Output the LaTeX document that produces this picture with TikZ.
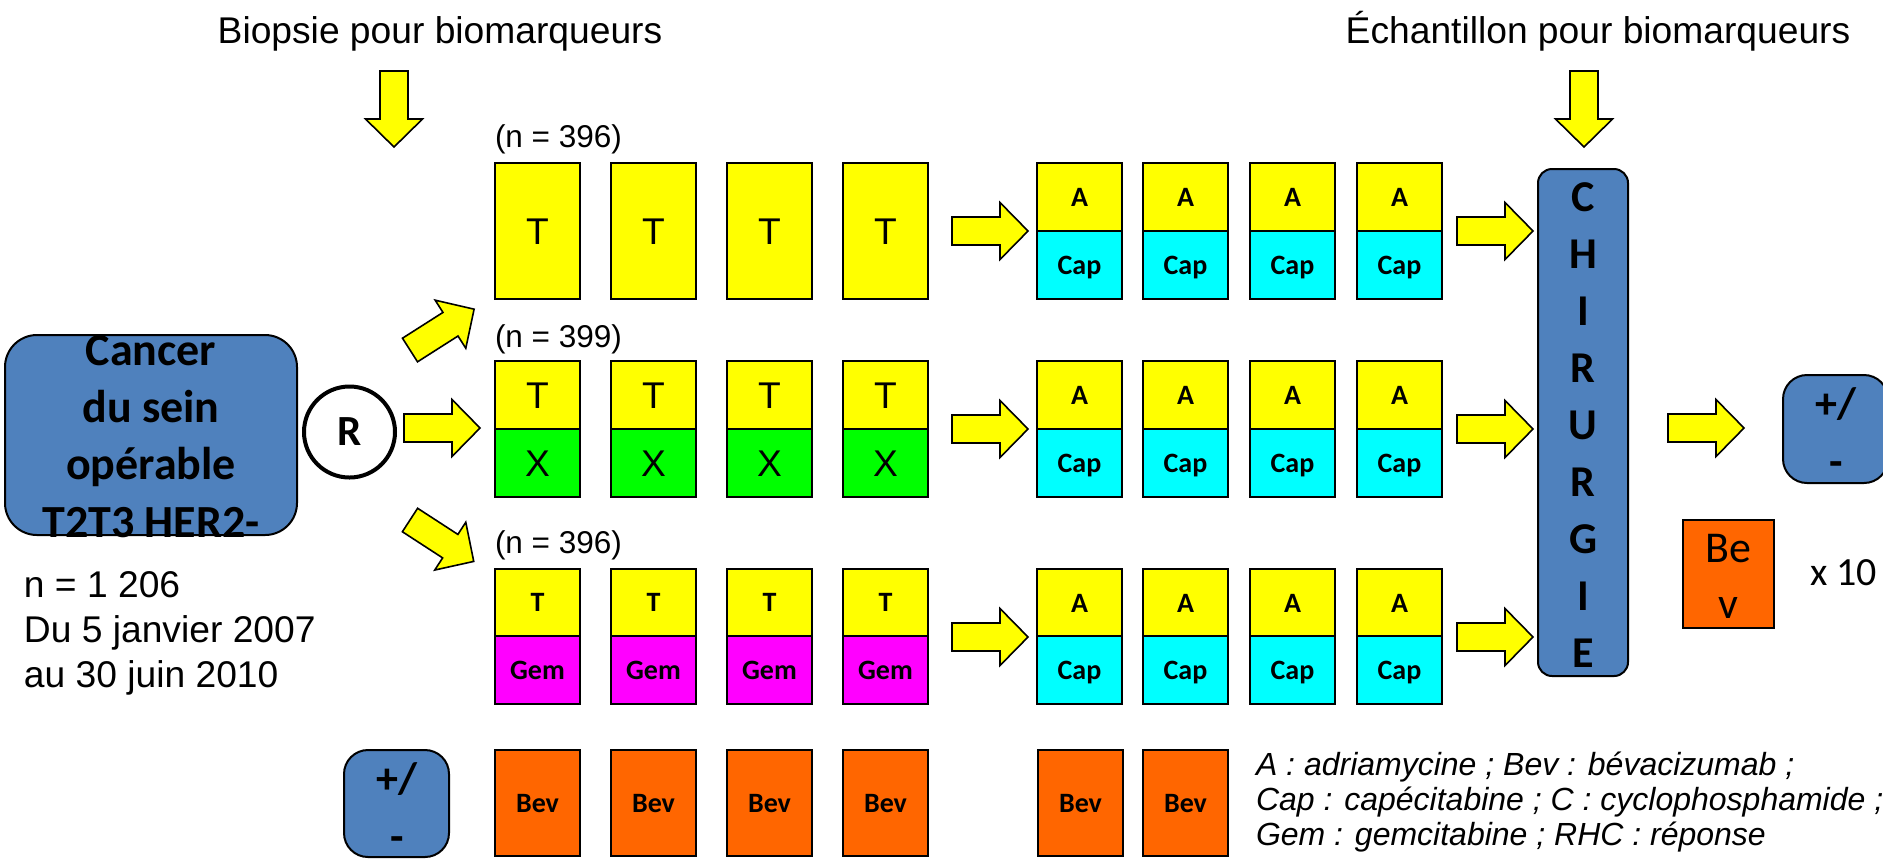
\documentclass[tikz,border=0pt]{standalone}
\usepackage{fontspec}
\setmainfont{Liberation Sans}
\newfontfamily\calfont{Carlito}

\definecolor{boxblue}{HTML}{4F81BD}
\definecolor{cyellow}{HTML}{FFFF00}
\definecolor{ccyan}{HTML}{00FFFF}
\definecolor{cgreen}{HTML}{00FF00}
\definecolor{cmagenta}{HTML}{FF00FF}
\definecolor{corange}{HTML}{FF6600}

\tikzset{
  every node/.style={inner sep=0pt, outer sep=0pt},
  % coloured treatment cell, text centred on its capitals
  cell/.style={draw=black, line width=1pt, anchor=north west, minimum width=42.5pt, text depth=0pt},
  arialcell/.style={font=\fontsize{18.6pt}{20pt}\selectfont, text height=13.3pt},
  calcell/.style={font=\calfont\bfseries\fontsize{14pt}{16pt}\selectfont, text height=9pt},
  titletext/.style={font=\fontsize{18.6pt}{22pt}\selectfont},
  armtext/.style={font=\fontsize{15.75pt}{18pt}\selectfont, anchor=base west},
  cancertext/.style={font=\calfont\bfseries\fontsize{23pt}{28pt}\selectfont, anchor=base},
  chirtext/.style={font=\calfont\bfseries\fontsize{22pt}{26pt}\selectfont, text height=14.2pt, text depth=0pt},
  pmtext/.style={font=\calfont\bfseries\fontsize{22pt}{26pt}\selectfont, anchor=base},
  legendtext/.style={font=\itshape\fontsize{16pt}{18pt}\selectfont, anchor=base west},
  bluebox/.style={draw=black, line width=1pt, fill=boxblue, anchor=north west},
  pics/blockarrow/.style={code={
    \draw[fill=cyellow, draw=black, line width=0.8pt, line join=miter]
      (0,14) -- (48,14) -- (48,28.5) -- (76,0) -- (48,-28.5) -- (48,-14) -- (0,-14) -- cycle;}},
}

\begin{document}
\begin{tikzpicture}[x=0.5pt, y=-0.5pt]
\path[use as bounding box] (0,0) rectangle (1883,864);

% headings above the two sampling points
\node[titletext, anchor=base] (biopsie) at (440,43) {Biopsie pour biomarqueurs};
\node[titletext, anchor=base] (echant) at (1598,43) {Échantillon pour biomarqueurs};
\pic[rotate=-90] at (394,71) {blockarrow};
\pic[rotate=-90] at (1584,71) {blockarrow};

% population box
\node[bluebox, rounded corners=16pt, minimum width=146pt, minimum height=100pt] (cancer) at (5,335) {};
\foreach \t/\y [count=\i] in {Cancer/365, du sein/422, opérable/479, T2T3 HER2-/537}
  \node[cancertext] (cancer\i) at (151,\y) {\t};

\node[titletext, anchor=base west] (nline1) at (24,597) {n = 1 206};
\node[titletext, anchor=base west] (nline2) at (24,642) {Du 5 janvier 2007};
\node[titletext, anchor=base west] (nline3) at (24,687) {au 30 juin 2010};

% randomisation
\node[circle, draw=black, line width=2pt, minimum size=45.5pt,
      font=\calfont\bfseries\fontsize{21.5pt}{24pt}\selectfont, text height=13.8pt, text depth=0pt] (rand) at (349.5,432) {R};
\pic at (404,428) {blockarrow};
\pic[rotate=32.5] at (410,350) {blockarrow};
\pic[rotate=-33] at (410,520) {blockarrow};

% arm sizes
\node[armtext] (n1) at (495,147) {(n = 396)};
\node[armtext] (n2) at (495,347) {(n = 399)};
\node[armtext] (n3) at (495,553) {(n = 396)};

% first phase, four cycles per arm
\foreach \c/\x in {1/495,2/611,3/727,4/843} {
  \node[cell, arialcell, fill=cyellow, minimum height=68pt] (ta\c) at (\x,163) {T};
  \node[cell, arialcell, fill=cyellow, minimum height=34pt] (tb\c) at (\x,361) {T};
  \node[cell, arialcell, fill=cgreen, minimum height=34pt] (xb\c) at (\x,429) {X};
  \node[cell, calcell, fill=cyellow, minimum height=33.5pt] (tc\c) at (\x,569) {T};
  \node[cell, calcell, fill=cmagenta, minimum height=34pt] (gc\c) at (\x,636) {Gem};
  \node[cell, calcell, fill=corange, minimum height=53pt] (bv\c) at (\x,750) {Bev};
}
\pic at (952,231) {blockarrow};
\pic at (952,429) {blockarrow};
\pic at (952,637) {blockarrow};

% second phase, four cycles per arm
\foreach \c/\x in {1/1037,2/1143,3/1250,4/1357} {
  \foreach \r/\top/\mid in {1/163/231, 2/361/429, 3/569/636} {
    \node[cell, calcell, fill=cyellow, minimum height=34pt] (a\r\c) at (\x,\top) {A};
    \node[cell, calcell, fill=ccyan, minimum height=34pt] (cap\r\c) at (\x,\mid) {Cap};
  }
}
\node[cell, calcell, fill=corange, minimum height=53pt] (bv5) at (1038,750) {Bev};
\node[cell, calcell, fill=corange, minimum height=53pt] (bv6) at (1143,750) {Bev};
\pic at (1457,231) {blockarrow};
\pic at (1457,429) {blockarrow};
\pic at (1457,637) {blockarrow};

% surgery
\node[bluebox, rounded corners=7pt, minimum width=45pt, minimum height=253.5pt] (chir) at (1538,169) {};
\foreach \l [count=\i] in {C,H,I,R,U,R,G,I,E}
  \node[chirtext] (chir\i) at (1583,{197+57*(\i-1)}) {\l};

% after surgery
\pic at (1668,428) {blockarrow};
\node[bluebox, rounded corners=12pt, minimum width=52.5pt, minimum height=54pt] (pmright) at (1783,375) {};
\node[pmtext] (pmr1) at (1836,418) {+/};
\node[pmtext] (pmr2) at (1836,476) {-};
\node[draw=black, line width=1pt, fill=corange, anchor=north west, minimum width=45.5pt, minimum height=54pt] (bevr) at (1683,520) {};
\node[font=\calfont\fontsize{22pt}{26pt}\selectfont, anchor=base] (bevr1) at (1728,562) {Be};
\node[font=\calfont\fontsize{22pt}{26pt}\selectfont, anchor=base] (bevr2) at (1728,618) {v};
\node[font=\calfont\fontsize{20pt}{24pt}\selectfont, anchor=base west] (times) at (1810,585) {x 10};

% optional bevacizumab during chemotherapy
\node[bluebox, rounded corners=12pt, minimum width=52.5pt, minimum height=53.5pt] (pmleft) at (344,750) {};
\node[pmtext] (pml1) at (397,793) {+/};
\node[pmtext] (pml2) at (397,851) {-};

% abbreviations
\node[legendtext] (leg1) at (1256,775) {A : adriamycine ; Bev : bévacizumab ;};
\node[legendtext] (leg2) at (1256,810) {Cap : capécitabine ; C : cyclophosphamide ;};
\node[legendtext] (leg3) at (1256,845) {Gem : gemcitabine ; RHC : réponse};
\end{tikzpicture}
\end{document}
